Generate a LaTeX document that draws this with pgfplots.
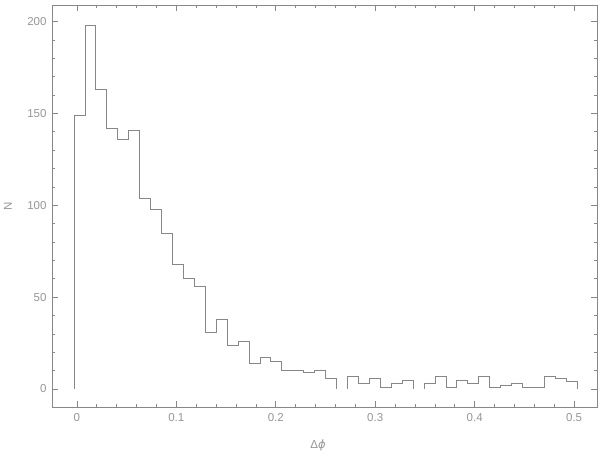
\documentclass[border=0pt]{standalone}
\usepackage{fontspec}
\setmainfont{Liberation Sans}
\newfontfamily\dv{DejaVu Sans}
\usepackage{pgfplots}
\pgfplotsset{compat=1.18}
\definecolor{pgray}{RGB}{135,135,135}
\definecolor{tgray}{RGB}{150,150,150}
\begin{document}
\begin{tikzpicture}
\path[use as bounding box] (0,0) rectangle (600pt,453pt);
\begin{axis}[
    at={(52pt,46pt)}, anchor=south west,
    scale only axis,
    width=545pt, height=402pt,
    xmin=-0.025, xmax=0.523,
    ymin=-9.8, ymax=209,
    axis line style={pgray, line width=0.6pt},
    every tick/.style={pgray, line width=0.6pt},
    major tick length=6pt,
    minor tick length=3pt,
    tick align=inside,
    xtick={0,0.1,0.2,0.3,0.4,0.5},
    xticklabels={0,0.1,0.2,0.3,0.4,0.5},
    minor x tick num=4,
    ytick={0,50,100,150,200},
    minor y tick num=4,
    /pgf/number format/assume math mode=true,
    tick label style={font=\fontsize{11.5}{13}\selectfont, text=tgray},
    xticklabel style={yshift=-3pt},
    yticklabel style={xshift=-2pt},
    xlabel={Δ{\dv\itshape ϕ}},
    ylabel={N},
    label style={font=\fontsize{11.5}{13}\selectfont, text=tgray},
    xlabel style={at={(axis description cs:0.488,-0.0945)}, anchor=center},
    ylabel style={at={(axis description cs:-0.081,0.5)}, anchor=center},
]
% bins 0-23
\addplot[pgray, line width=0.6pt, const plot mark left, mark=none] coordinates {
(-0.003,0) (-0.003,149) (0.008,198) (0.019,163) (0.030,142) (0.041,136)
(0.052,141) (0.063,104) (0.074,98) (0.085,85) (0.096,68) (0.107,60)
(0.118,56) (0.129,31) (0.140,38) (0.151,24) (0.162,26) (0.173,14)
(0.184,17) (0.195,15) (0.206,10) (0.217,10) (0.228,9) (0.239,10)
(0.250,6) (0.261,0)
};
% bins 25-30
\addplot[pgray, line width=0.6pt, const plot mark left, mark=none] coordinates {
(0.272,0) (0.272,7) (0.283,3) (0.294,6) (0.305,1) (0.316,3) (0.327,5) (0.338,0)
};
% bins 32-45
\addplot[pgray, line width=0.6pt, const plot mark left, mark=none] coordinates {
(0.349,0) (0.349,3) (0.360,7) (0.371,1) (0.382,5) (0.393,3) (0.404,7)
(0.415,1) (0.426,2) (0.437,3) (0.448,1) (0.459,1) (0.470,7) (0.481,6)
(0.492,4) (0.503,0)
};
\end{axis}
\end{tikzpicture}
\end{document}
